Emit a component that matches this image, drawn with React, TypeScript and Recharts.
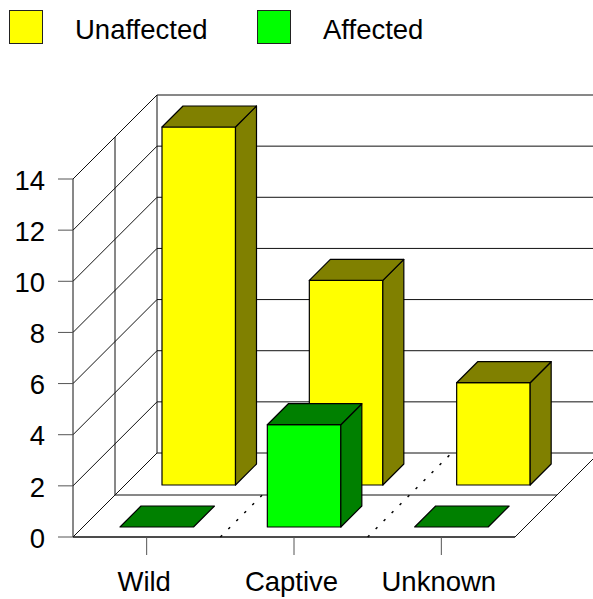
import React from "react";
import { BarChart, Bar, XAxis, YAxis, CartesianGrid, Legend } from "recharts";

const categories = ["Wild", "Captive", "Unknown"];
const unaffected = [14, 8, 4];
const affected = [0, 4, 0];
const yTicks = [0, 2, 4, 6, 8, 10, 12, 14];
const seriesNames = ["Unaffected", "Affected"];

const rows = categories.map((category, i) => ({
  category,
  Unaffected: unaffected[i],
  Affected: affected[i],
}));

const W = 593;
const H = 599;
const PLOT_LEFT = 73;
const PLOT_RIGHT = 515;
const PLOT_TOP = 179;
const PLOT_BOTTOM = 537;
const BAND = (PLOT_RIGHT - PLOT_LEFT) / categories.length;
const DEPTH = 84;
const MID = DEPTH / 2;
const BAR_DEPTH = 21;
const LEGEND_H = 60;
const FONT = "'Liberation Sans', Arial, sans-serif";
const FONT_SIZE = 27.5;
const LINE = "#111";

const YELLOW = "#ffff00";
const OLIVE = "#808000";
const LIME = "#00ff00";
const GREEN = "#008000";

const Box3D = ({ x, y, width, height, rowShift, face, dark }: any) => {
  const l = x + rowShift;
  const r = l + width;
  const t = y - rowShift;
  const b = y + height - rowShift;
  const d = BAR_DEPTH;
  return (
    <g stroke="#000" strokeWidth={1.2} strokeLinejoin="round">
      {height > 0.5 && <rect x={l} y={t} width={width} height={b - t} fill={face} />}
      {height > 0.5 && (
        <polygon
          points={`${r},${t} ${r + d},${t - d} ${r + d},${b - d} ${r},${b}`}
          fill={dark}
        />
      )}
      <polygon
        points={`${l},${t} ${l + d},${t - d} ${r + d},${t - d} ${r},${t}`}
        fill={dark}
      />
    </g>
  );
};

const HLine = ({ y1 }: any) => {
  const isFloor = Math.abs(y1 - PLOT_BOTTOM) < 1;
  const isTop = Math.abs(y1 - PLOT_TOP) < 1;
  const p = { stroke: LINE, strokeWidth: 1, fill: "none" };
  return (
    <g>
      <line x1={PLOT_LEFT} y1={y1} x2={PLOT_LEFT + DEPTH} y2={y1 - DEPTH} {...p} />
      <line x1={PLOT_LEFT + DEPTH} y1={y1 - DEPTH} x2={W + 10} y2={y1 - DEPTH} {...p} />
      {isFloor && (
        <>
          <line x1={PLOT_LEFT} y1={y1} x2={PLOT_RIGHT} y2={y1} {...p} />
          <line x1={PLOT_RIGHT} y1={y1} x2={PLOT_RIGHT + DEPTH} y2={y1 - DEPTH} {...p} />
          <line
            x1={PLOT_LEFT + MID}
            y1={y1 - MID}
            x2={PLOT_RIGHT + MID}
            y2={y1 - MID}
            {...p}
          />
        </>
      )}
      {isTop && (
        <>
          <line
            x1={PLOT_LEFT + DEPTH}
            y1={y1 - DEPTH}
            x2={PLOT_LEFT + DEPTH}
            y2={PLOT_BOTTOM - DEPTH}
            {...p}
          />
          <line
            x1={PLOT_LEFT + MID}
            y1={y1 - MID}
            x2={PLOT_LEFT + MID}
            y2={PLOT_BOTTOM - MID}
            {...p}
          />
        </>
      )}
    </g>
  );
};

const VLine = ({ x1 }: any) => {
  const x = x1 + BAND / 2;
  if (x1 <= PLOT_LEFT + 1 || x >= PLOT_RIGHT - 1) return <g />;
  return (
    <line
      x1={x}
      y1={PLOT_BOTTOM}
      x2={x + DEPTH}
      y2={PLOT_BOTTOM - DEPTH}
      stroke="#000"
      strokeWidth={1.5}
      strokeDasharray="2.5 8.8"
    />
  );
};

const LegendContent = () => {
  const swatches = [
    { name: seriesNames[0], fill: YELLOW, sx: 9, tx: 75 },
    { name: seriesNames[1], fill: LIME, sx: 257, tx: 323 },
  ];
  return (
    <svg width={W} height={LEGEND_H} style={{ display: "block" }}>
      {swatches.map((s) => (
        <g key={s.name}>
          <rect x={s.sx + 0.5} y={10.5} width={33} height={33} fill={s.fill} stroke="#222" />
          <text x={s.tx} y={39} fontSize={FONT_SIZE} fontFamily={FONT} fill="#000">
            {s.name}
          </text>
        </g>
      ))}
    </svg>
  );
};

export default function App() {
  return (
    <div style={{ position: "absolute", left: 0, top: 0, width: W, height: H }}>
      <BarChart
        width={W}
        height={H}
        data={rows}
        barSize={73.5}
        barGap={-73.5}
        margin={{
          top: PLOT_TOP - LEGEND_H,
          right: W - PLOT_RIGHT,
          bottom: 0,
          left: 0,
        }}
      >
        <Legend
          verticalAlign="top"
          content={<LegendContent />}
          wrapperStyle={{ position: "absolute", left: 0, top: 0, width: W, height: LEGEND_H }}
        />
        <CartesianGrid horizontal={<HLine />} vertical={<VLine />} />
        <XAxis
          dataKey="category"
          interval={0}
          height={H - PLOT_BOTTOM}
          tickSize={18}
          tickMargin={16}
          axisLine={{ stroke: LINE }}
          tickLine={{ stroke: "#555" }}
          tick={{ fontSize: FONT_SIZE, fontFamily: FONT, fill: "#000", dx: -2.5 }}
        />
        <YAxis
          type="number"
          domain={[0, 14]}
          ticks={yTicks}
          interval={0}
          width={PLOT_LEFT}
          tickSize={15}
          tickMargin={13}
          axisLine={{ stroke: LINE }}
          tickLine={{ stroke: "#555" }}
          tick={{ fontSize: FONT_SIZE, fontFamily: FONT, fill: "#000", dy: 1 }}
        />
        <Bar
          dataKey="Unaffected"
          isAnimationActive={false}
          fill={YELLOW}
          shape={(p: any) => <Box3D {...p} rowShift={MID + 10} face={YELLOW} dark={OLIVE} />}
        />
        <Bar
          dataKey="Affected"
          isAnimationActive={false}
          fill={LIME}
          shape={(p: any) => <Box3D {...p} rowShift={10} face={LIME} dark={GREEN} />}
        />
      </BarChart>
    </div>
  );
}
